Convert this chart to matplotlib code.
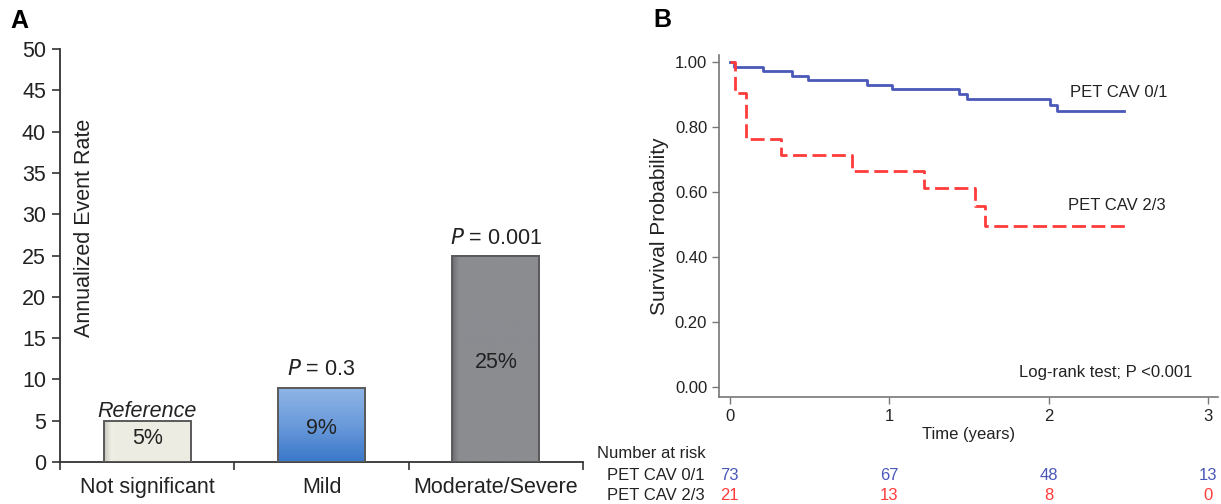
import matplotlib
matplotlib.use("Agg")
import matplotlib.pyplot as plt
import numpy as np
from matplotlib.colors import LinearSegmentedColormap

plt.rcParams["font.family"] = ["Liberation Sans", "DejaVu Sans"]

# ---- panel A data ----
categories = ["Not significant", "Mild", "Moderate/Severe"]
event_rates = [5, 9, 25]
bar_texts = ["5%", "9%", "25%"]
top_labels = ["Reference", "P = 0.3", "P = 0.001"]

# ---- panel B data (Kaplan-Meier steps) ----
km_low_t = [0, 0.03, 0.21, 0.39, 0.49, 0.86, 1.02, 1.44, 1.49, 2.01, 2.05, 2.47]
km_low_s = [1.0, 0.986, 0.972, 0.958, 0.944, 0.930, 0.917, 0.903, 0.886, 0.868, 0.849, 0.849]
km_high_t = [0, 0.035, 0.105, 0.325, 0.77, 1.22, 1.54, 1.60, 2.50]
km_high_s = [1.0, 0.905, 0.762, 0.714, 0.664, 0.613, 0.557, 0.495, 0.495]
risk_times = [0, 1, 2, 3]
risk_low = [73, 67, 48, 13]
risk_high = [21, 13, 8, 0]

W, H = 1221, 504
fig = plt.figure(figsize=(W / 100, H / 100), dpi=100)
FA = 15.5  # panel A text size
FB = 12    # panel B text size
ink = "#222222"


def frac(x0, y0, x1, y1):
    # pixel box -> figure fraction [left, bottom, width, height]
    return [x0 / W, 1 - y1 / H, (x1 - x0) / W, (y1 - y0) / H]


# ================= Panel A =================
ax = fig.add_axes(frac(60, 49, 583, 462))
x = np.arange(len(categories)) + 0.5
grads = [
    ["#c9c9bf", "#efefe6", "#ececE2"],
    ["#3a78c9", "#6b9bdb", "#8fb5e6"],
    ["#6f7074", "#8c8d91", "#8a8c90"],
]
bars = ax.bar(x, event_rates, width=0.5, color="none", edgecolor="#5a5a5a",
              linewidth=1.4, zorder=3)
for i, b in enumerate(bars):
    x0, y0 = b.get_x(), b.get_y()
    w, h = b.get_width(), b.get_height()
    cmap = LinearSegmentedColormap.from_list(f"g{i}", grads[i])
    if i == 1:
        img = np.linspace(0, 1, 50).reshape(-1, 1)  # vertical, lighter at top
    else:
        img = np.concatenate([np.linspace(0, 1, 8), np.ones(42)]).reshape(1, -1)
    im = ax.imshow(img, cmap=cmap, extent=[x0, x0 + w, y0, y0 + h],
                   aspect="auto", origin="lower", zorder=2)
    im.set_clip_path(b)

text_y = [2.8, 4.1, 12.0]
for xi, t, ty in zip(x, bar_texts, text_y):
    ax.text(xi, ty, t, ha="center", va="center", fontsize=FA, color=ink,
            zorder=4)

ax.text(x[0], 6.1, "Reference", ha="center", va="center", fontsize=FA,
        style="italic", color=ink)
ax.text(x[1], 11.2, r"$\it{P}$ = 0.3", ha="center", va="center", fontsize=FA,
        color=ink)
ax.text(x[2], 27.1, r"$\it{P}$ = 0.001", ha="center", va="center",
        fontsize=FA, color=ink)
ax.text(0.14, 28.3, "Annualized Event Rate", rotation=90, ha="center",
        va="center", fontsize=FA, color=ink)

ax.set_xlim(0, 3)
ax.set_ylim(0, 50)
ax.set_yticks(np.arange(0, 51, 5))
ax.set_xticks([0, 1, 2, 3])
ax.set_xticklabels([])
ax.set_xticks(x, minor=True)
ax.set_xticklabels(categories, minor=True)
ax.tick_params(axis="x", which="minor", length=0, labelsize=FA, pad=11,
               labelcolor=ink)
ax.tick_params(axis="x", which="major", length=6, width=1.2, color="#333333")
ax.tick_params(axis="y", length=6, width=1.2, color="#333333", labelsize=FA,
               labelcolor=ink, pad=4)
for s in ["top", "right"]:
    ax.spines[s].set_visible(False)
for s in ["left", "bottom"]:
    ax.spines[s].set_color("#333333")
    ax.spines[s].set_linewidth(1.3)

fig.text(10 / W, 1 - 21 / H, "A", fontsize=18, fontweight="bold", va="center")

# ================= Panel B =================
bx = fig.add_axes(frac(719, 55, 1218, 397))
blue = "#4a58b8"
red = "#ff3b3b"
bx.step(km_low_t, km_low_s, where="post", color=blue, linewidth=2)
bx.step(km_high_t, km_high_s, where="post", color=red, linewidth=2,
        linestyle=(0, (5, 2)))
bx.text(2.13, 0.905, "PET CAV 0/1", fontsize=FB, va="center", color=ink)
bx.text(2.12, 0.56, "PET CAV 2/3", fontsize=FB, va="center", color=ink)
bx.text(1.815, 0.045, "Log-rank test; P <0.001", fontsize=FB, va="center",
        color=ink)

bx.set_xlim(-0.066, 3.06)
bx.set_ylim(-0.031, 1.022)
bx.set_xticks(risk_times)
bx.set_yticks(np.arange(0, 1.01, 0.2))
bx.set_yticklabels([f"{v:.2f}" for v in np.arange(0, 1.01, 0.2)])
bx.tick_params(length=5, width=1, color="#777777", labelsize=FB,
               labelcolor=ink)
bx.set_xlabel("Time (years)", fontsize=FB, color=ink, labelpad=2)
bx.set_ylabel("Survival Probability", fontsize=15, color=ink, labelpad=4)
for s in ["top", "right"]:
    bx.spines[s].set_visible(False)
for s in ["left", "bottom"]:
    bx.spines[s].set_color("#777777")
    bx.spines[s].set_linewidth(1.2)

fig.text(653 / W, 1 - 20 / H, "B", fontsize=18, fontweight="bold", va="center")

# number at risk table
row_y = [1 - 475 / H, 1 - 495 / H]
fig.text(597 / W, 1 - 454 / H, "Number at risk", fontsize=FB, va="center",
         color=ink)
fig.text(705 / W, row_y[0], "PET CAV 0/1", fontsize=FB, va="center",
         ha="right", color=ink)
fig.text(705 / W, row_y[1], "PET CAV 2/3", fontsize=FB, va="center",
         ha="right", color=ink)
for t, n1, n2 in zip(risk_times, risk_low, risk_high):
    xf = bx.transData.transform((t, 0))[0] / fig.dpi / fig.get_figwidth()
    fig.text(xf, row_y[0], str(n1), fontsize=FB, va="center", ha="center",
             color=blue)
    fig.text(xf, row_y[1], str(n2), fontsize=FB, va="center", ha="center",
             color=red)

fig.savefig("out.png", dpi=100)
